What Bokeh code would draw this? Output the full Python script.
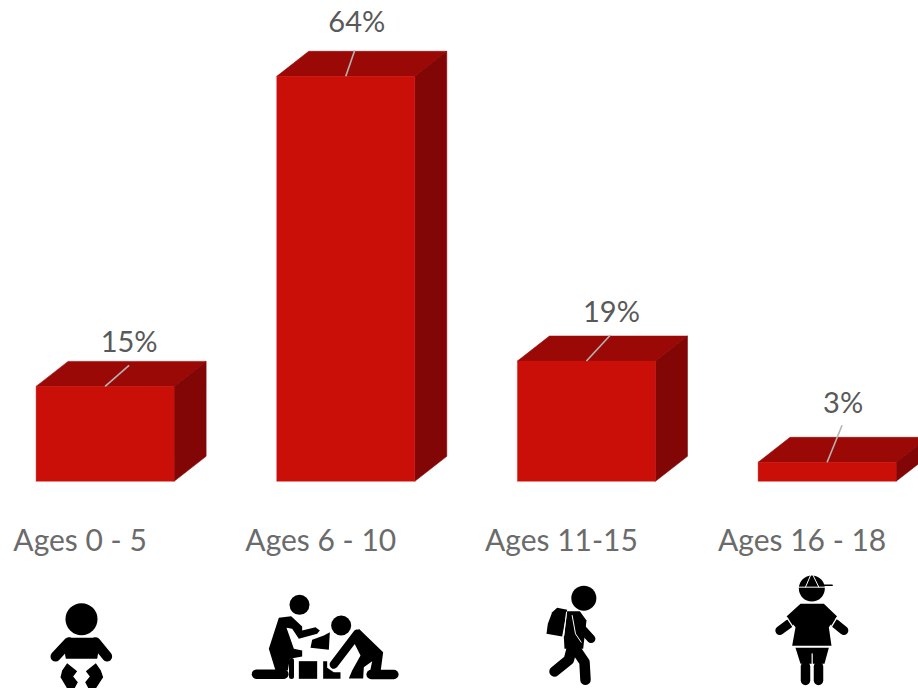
from bokeh.plotting import figure
from bokeh.models import Range1d
from bokeh.core.properties import value
from bokeh.embed import file_html
from bokeh.resources import INLINE

# ---- data ----
categories = ["Ages 0 - 5", "Ages 6 - 10", "Ages 11-15", "Ages 16 - 18"]
shares = [15, 64, 19, 3]
share_labels = ["15%", "64%", "19%", "3%"]

# ---- layout (reference pixels) ----
W, H = 918, 688
MARGIN = 0
X0_PX, STEP_PX = 104.6, 240.67
BASE_PX, PX_PER_UNIT = 480.8, 6.328
BAR_W_PX, DEPTH_X, DEPTH_Y = 138.0, 32.0, 25.0
label_dx = [24, 11, 25, 16]
label_dy = [46, 56, 51, 61]
leader_dx = [24, 9, 24, 15]
leader_dy = [21, 26, 26, 37]
FRONT, TOP, SIDE = "#CA0F09", "#9A0906", "#820606"


def dx(px):
    return (px - X0_PX) / STEP_PX


def dy(px):
    return (BASE_PX - px) / PX_PER_UNIT


p = figure(width=W, height=H, output_backend="svg", toolbar_location=None,
           x_range=Range1d(dx(MARGIN), dx(MARGIN + W)),
           y_range=Range1d(dy(MARGIN + H), dy(MARGIN)),
           min_border=0, outline_line_color=None, background_fill_color="white",
           border_fill_color="white")
p.axis.visible = False
p.grid.visible = False

half = BAR_W_PX / 2 / STEP_PX
ddx, ddy = DEPTH_X / STEP_PX, DEPTH_Y / PX_PER_UNIT
idx = list(range(len(shares)))

p.patches([[i - half, i + half, i + half + ddx, i - half + ddx] for i in idx],
          [[v, v, v + ddy, v + ddy] for v in shares], fill_color=TOP, line_color=TOP, line_width=0.6)
p.patches([[i + half, i + half + ddx, i + half + ddx, i + half] for i in idx],
          [[0, ddy, v + ddy, v] for v in shares], fill_color=SIDE, line_color=SIDE, line_width=0.6)
p.quad(left=[i - half for i in idx], right=[i + half for i in idx],
       bottom=[0] * 4, top=shares, fill_color=FRONT, line_color=FRONT, line_width=0.4)

p.segment(x0=idx, y0=shares,
          x1=[i + d / STEP_PX for i, d in zip(idx, leader_dx)],
          y1=[v + d / PX_PER_UNIT for v, d in zip(shares, leader_dy)],
          line_color="#B4B4B4", line_width=1.6)

p.text(x=[i + d / STEP_PX for i, d in zip(idx, label_dx)],
       y=[v + d / PX_PER_UNIT for v, d in zip(shares, label_dy)],
       text=share_labels, text_font=value("Lato"), text_font_size="29px",
       text_color="#595959", text_align="center", text_baseline="middle")
p.text(x=[i - 25 / STEP_PX for i in idx], y=[dy(538.5)] * 4, text=categories,
       text_font=value("Lato"), text_font_size="30px", text_color="#6B6B6B",
       text_align="center", text_baseline="middle")

# ---- pictograms, traced in zoom-crop pixels ----


def ix(z, off):
    return dx(off + z / 3)


def iy(z):
    return dy(570 + z / 3)


def poly(pts, off, color="black"):
    p.patch([ix(a, off) for a, _ in pts], [iy(b) for _, b in pts], fill_color=color, line_color=None)


def stroke(pts, off, w, color="black"):
    p.line([ix(a, off) for a, _ in pts], [iy(b) for _, b in pts], line_color=color, line_width=w,
           line_cap="round", line_join="round")


def head(x, y, d, off):
    p.scatter([ix(x, off)], [iy(y)], size=d, marker="circle", fill_color="black", line_color=None)


# baby
head(243, 146, 32, 0)
poly([(205, 202), (282, 202), (298, 220), (290, 265), (196, 265), (188, 220)], 0)
stroke([(205, 215), (165, 258)], 0, 10)
stroke([(285, 215), (320, 258)], 0, 10)
poly([(200, 278), (230, 302), (218, 318), (232, 335), (222, 354), (200, 354), (180, 320), (185, 300)], 0)
poly([(286, 278), (256, 302), (268, 318), (254, 335), (264, 354), (286, 354), (308, 320), (301, 300)], 0)

# adult and child with blocks
head(897, 103, 20, 0)
poly([(835, 142), (872, 137), (905, 168), (905, 180), (945, 170), (958, 180), (950, 190), (895, 205),
      (875, 175), (858, 172), (880, 235), (905, 240), (905, 258), (868, 265), (862, 300), (825, 300),
      (805, 235)], 0)
stroke([(768, 311), (850, 311)], 0, 9.5)
stroke([(873, 270), (873, 318)], 0, 5)
poly([(895, 272), (950, 272), (950, 325), (895, 325)], 0)
poly([(968, 272), (980, 272), (980, 292), (1000, 305), (1020, 305), (1020, 325), (968, 325)], 0)
poly([(970, 195), (988, 185), (985, 238), (930, 232), (935, 208)], 0)
head(1022, 165, 20, 0)
poly([(1075, 175), (1148, 245), (1138, 320), (1105, 320), (1115, 272), (1090, 290), (1088, 324),
      (1045, 324), (1055, 300), (1080, 255), (1060, 215)], 0)
stroke([(1070, 190), (1000, 282)], 0, 8.5)
stroke([(1112, 312), (1180, 312)], 0, 9.5)

# walker with backpack
head(370, 83, 25, 460)
poly([(290, 112), (320, 118), (305, 198), (258, 190), (262, 160), (275, 125)], 460)
poly([(320, 122), (358, 122), (378, 150), (368, 235), (312, 235), (310, 200)], 460)
stroke([(350, 140), (360, 170), (392, 205)], 460, 8.5)
stroke([(335, 230), (325, 268), (282, 303)], 460, 10.5)
stroke([(345, 235), (372, 275), (375, 328)], 460, 10.5)
stroke([(318, 125), (310, 195)], 460, 1, "white")
stroke([(335, 135), (345, 190), (362, 215)], 460, 1, "white")

# child with cap
head(1054, 54, 26, 460)
stroke([(1015, 50), (1095, 50)], 460, 1, "white")
stroke([(1035, 50), (1050, 15)], 460, 1, "white")
stroke([(1075, 50), (1058, 15)], 460, 1, "white")
stroke([(1090, 44), (1115, 44)], 460, 1.5)
poly([(1020, 100), (1090, 100), (1130, 138), (1105, 170), (1113, 226), (995, 226), (1005, 170), (978, 138)], 460)
stroke([(985, 160), (958, 180)], 460, 9)
stroke([(1125, 160), (1150, 180)], 460, 9)
stroke([(978, 140), (998, 170)], 460, 1.2, "white")
stroke([(1130, 140), (1112, 170)], 460, 1.2, "white")
poly([(1005, 232), (1105, 232), (1092, 280), (1020, 280)], 460)
stroke([(1035, 288), (1035, 330)], 460, 9.5)
stroke([(1074, 288), (1074, 330)], 460, 9.5)
stroke([(1055, 250), (1055, 340)], 460, 1.2, "white")

open("out.html", "w").write(file_html(p, INLINE))
